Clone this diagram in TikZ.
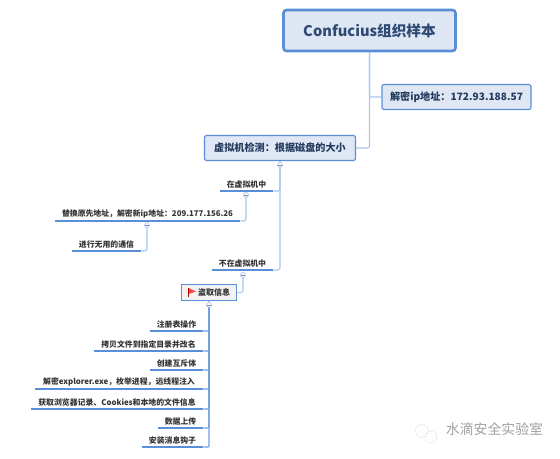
\documentclass[tikz,border=0pt]{standalone}
\usepackage{fontspec}
\setmainfont{Noto Sans CJK SC}
\def\px{.75pt}
\definecolor{rimblue}{HTML}{5A8FD8}
\definecolor{boxfill}{HTML}{DEE7F3}
\definecolor{inkblue}{HTML}{2E4A75}
\definecolor{linkblue}{HTML}{A9C6EE}
\tikzset{
  rootbox/.style={draw=rimblue,fill=boxfill,line width=2.6*\px,rounded corners=3*\px,text=inkblue,font=\fontsize{11}{13}\selectfont\bfseries,minimum width=172*\px,minimum height=41*\px,inner sep=0pt},
  topicbox/.style={draw=rimblue,fill=boxfill,line width=1.1*\px,rounded corners=2*\px,text=inkblue!80!black,font=\fontsize{7.6}{10}\selectfont\bfseries,minimum height=25*\px,inner sep=0pt},
  flagbox/.style={draw=rimblue,fill=gray!10,line width=1.6*\px,font=\fontsize{6}{8}\selectfont\bfseries,text=black!80,minimum width=55*\px,minimum height=16*\px,inner sep=0pt},
  leaf/.style={font=\fontsize{5.9}{8}\selectfont\bfseries,text=black!80,anchor=south,inner sep=0pt,minimum height=13*\px},
  leafline/.style={draw=rimblue,line width=1.5*\px},
  twig/.style={draw=linkblue,line width=1.1*\px,rounded corners=2*\px},
  foldmark/.style={circle,draw=linkblue,fill=white,line width=.7*\px,minimum size=5*\px,inner sep=0pt,path picture={\draw[linkblue!70!black,line width=.5*\px] (path picture bounding box.west) -- (path picture bounding box.east);}},
  markmark/.style={font=\fontsize{10.4}{12}\selectfont,text=gray!75}
}
\begin{document}
\begin{tikzpicture}[x=\px,y=-\px]
\useasboundingbox (0,0) rectangle (560,459);
% upper boxes
\node[rootbox] (root) at (369.5,30.5){Confucius组织样本};
\node[topicbox,minimum width=149*\px] (ipaddr) at (456.5,97){解密ip地址：172.93.188.57};
\node[topicbox,minimum width=151*\px] (vmcheck) at (280,148){虚拟机检测：根据磁盘的大小};
\draw[twig] (root.south) |- (ipaddr.west);
\draw[twig] (root.south) |- (vmcheck.east);
% fold marks
\foreach \n/\x/\y in {foldvm/280/165,foldin/246/195,foldnew/147/225,foldout/243/275,foldsteal/209/305}{\node[foldmark] (\n) at (\x,\y){};}
\draw[twig] (vmcheck.south-|foldvm) -- (foldvm);
% first level
\foreach \n/\x/\y/\w/\v in {invm/246.5/191/53/在虚拟机中,newip/147.5/221/185/替换原先地址，解密新ip地址：209.177.156.26,useless/106.5/251/69/进行无用的通信,outvm/242.5/270/61/不在虚拟机中}{
  \node[leaf,minimum width=\w*\px] (\n) at (\x,\y){\v};
  \draw[leafline] (\n.south west) -- (\n.south east);}
\draw[twig] (foldvm) |- (invm.south east);
\draw[twig] (foldvm) |- (outvm.south east);
\draw[twig] (foldin) |- (newip.south east);
\draw[twig] (foldnew) |- (useless.south east);
\node[flagbox] (steal) at (209,292.5){\hspace*{7\px}盗取信息};
\draw[twig] (foldout) |- (steal.east);
\draw[twig] (steal.south-|foldsteal) -- (foldsteal);
\fill[red!75] (188.5,288) -- (196,291.5) -- (188.5,294) -- cycle;
\draw[red!70!black,line width=.8*\px] (188.5,288) -- (188.5,297);
% leaves under steal
\foreach \n/\x/\y/\w/\v in {regop/176.5/331/53/注册表操作,copyfile/148.5/351/109/拷贝文件到指定目录并改名,mutex/176.5/370/53/创建互斥体,inject/119/389/168/解密explorer.exe，枚举进程，远线程注入,collect/117/409/172/获取浏览器记录、Cookies和本地的文件信息,upload/180.5/428/45/数据上传,hook/172.5/447/61/安装消息钩子}{
  \node[leaf,minimum width=\w*\px] (\n) at (\x,\y){\v};
  \draw[leafline] (\n.south west) -- (\n.south east);
  \draw[draw=rimblue!70!linkblue,line width=1.1*\px,rounded corners=1*\px] (foldsteal) |- (\n.south east);}
% watermark
\draw[gray!35,densely dotted,line width=.7*\px] (422,431) circle (6.5);
\draw[gray!35,densely dotted,line width=.7*\px] (431,437) circle (6);
\node[markmark,inner sep=0pt] (mark) at (494.5,429){水滴安全实验室};
\end{tikzpicture}
\end{document}
